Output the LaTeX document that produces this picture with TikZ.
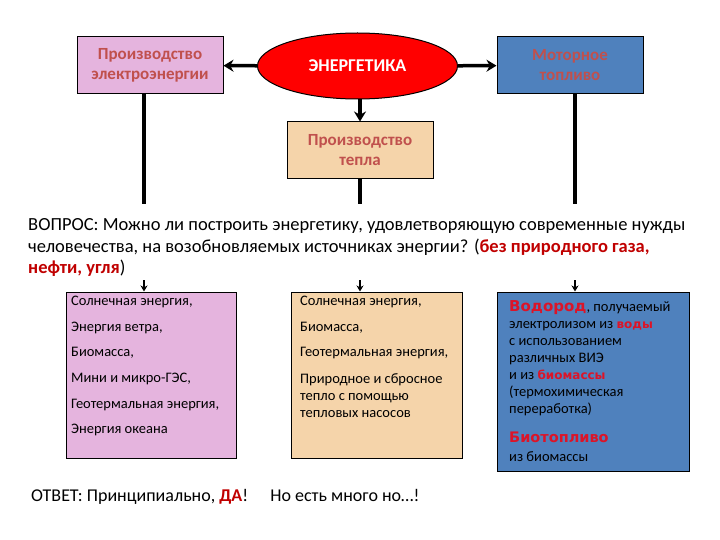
\documentclass[tikz,border=0pt]{standalone}
\usepackage{fontspec}
\setmainfont{Carlito}
\newfontfamily\hlfont{DejaVu Sans}
\usetikzlibrary{arrows.meta,shapes.geometric}
\definecolor{pinkc}{RGB}{229,180,222}
\definecolor{tanc}{RGB}{245,212,170}
\definecolor{bluec}{RGB}{79,129,189}
\definecolor{redtxt}{RGB}{192,80,77}
\definecolor{darkred}{RGB}{192,0,0}
\definecolor{hred}{RGB}{220,20,40}
\newcommand{\hlword}[1]{{\hlfont\bfseries\color{hred}#1}}
\tikzset{
  topbox/.style={draw=black, line width=1pt, minimum width=146pt, minimum height=57pt, inner sep=0pt, align=center, font=\fontsize{17}{20}\selectfont\bfseries, text=redtxt},
  lowbox/.style={draw=black, line width=1pt, inner sep=0pt},
  conn/.style={line width=3.5pt},
  connarr/.style={line width=3.5pt, -{Stealth[length=10pt,width=12pt]}},
  smallarr/.style={line width=2pt, -{Stealth[length=6pt,width=7pt]}},
  boxtext/.style={anchor=north west, inner sep=0pt, align=left, font=\fontsize{14.5}{25.6}\selectfont},
}
\begin{document}
\begin{tikzpicture}[x=1pt,y=-1pt]
\useasboundingbox (0,0) rectangle (720,540);
% top row
\node[topbox, fill=pinkc] (elec) at (150,65.5) {Производство\\электроэнергии};
\node[ellipse, draw=black, line width=1pt, fill=red, minimum width=200pt, minimum height=66pt, inner sep=0pt, text=white, font=\fontsize{18}{19}\selectfont\bfseries] (en) at (357.5,66) {ЭНЕРГЕТИКА};
\node[topbox, fill=bluec] (fuel) at (570,65.5) {Моторное\\топливо};
\node[topbox, fill=tanc] (heat) at (360,150.5) {Производство\\тепла};
\draw[connarr] (en) -- (elec);
\draw[connarr] (en) -- (fuel);
\draw[connarr] (heat.north |- en.south) -- (heat.north);
% vertical lines down to question
\coordinate (q1) at (144,204);
\coordinate (q2) at (360,204);
\coordinate (q3) at (575,204);
\draw[conn] (elec.south -| q1) -- (q1);
\draw[conn] (heat.south -| q2) -- (q2);
\draw[conn] (fuel.south -| q3) -- (q3);
% question
\node[anchor=north west, inner sep=0pt, align=left, font=\fontsize{18.5}{21.8}\selectfont] (question) at (28,218)
{ВОПРОС: Можно ли построить энергетику, удовлетворяющую современные нужды\\
человечества, на возобновляемых источниках энергии? ({\color{darkred}\bfseries без природного газа,}\\
{\color{darkred}\bfseries нефти, угля})};
% lower boxes
\node[lowbox, fill=pinkc, minimum width=170pt, minimum height=166pt] (renew) at (151,375) {};
\node[lowbox, fill=tanc, minimum width=171pt, minimum height=166pt] (heatsrc) at (376.5,375) {};
\node[lowbox, fill=bluec, minimum width=192pt, minimum height=179pt] (fuelsrc) at (593,381.5) {};
\coordinate (a1) at (144,280);
\coordinate (a2) at (360,280);
\coordinate (a3) at (575,280);
\draw[smallarr] (a1) -- (a1 |- renew.north);
\draw[smallarr] (a2) -- (a2 |- heatsrc.north);
\draw[smallarr] (a3) -- (a3 |- fuelsrc.north);
\node[boxtext] (t1) at (71,296) {Солнечная энергия,\\Энергия ветра,\\Биомасса,\\Мини и микро-ГЭС,\\Геотермальная энергия,\\Энергия океана};
\node[boxtext] (t2) at (300,296) {Солнечная энергия,\\Биомасса,\\Геотермальная энергия,};
\node[boxtext, font=\fontsize{14.5}{17}\selectfont] (t2b) at (300,373) {Природное и сбросное\\тепло с помощью\\тепловых насосов};
\node[anchor=north west, inner sep=0pt, align=left, font=\fontsize{14.5}{17}\selectfont] (t3) at (509,300)
{{\fontsize{15}{17}\selectfont\hlword{Водород}}, получаемый\\
электролизом из {\fontsize{12}{17}\selectfont\hlword{воды}}\\
с использованием\\
различных ВИЭ\\
и из {\fontsize{12}{17}\selectfont\hlword{биомассы}}\\
(термохимическая\\
переработка)\\[12pt]
{\fontsize{14.5}{17}\selectfont\hlword{Биотопливо}}\\[2pt]
из биомассы};
% answer
\node[anchor=west, inner sep=0pt, font=\fontsize{18}{19}\selectfont] (answer) at (31,497)
{ОТВЕТ: Принципиально, {\bfseries\color{darkred}ДА}! \quad Но есть много но…!};
\end{tikzpicture}
\end{document}
